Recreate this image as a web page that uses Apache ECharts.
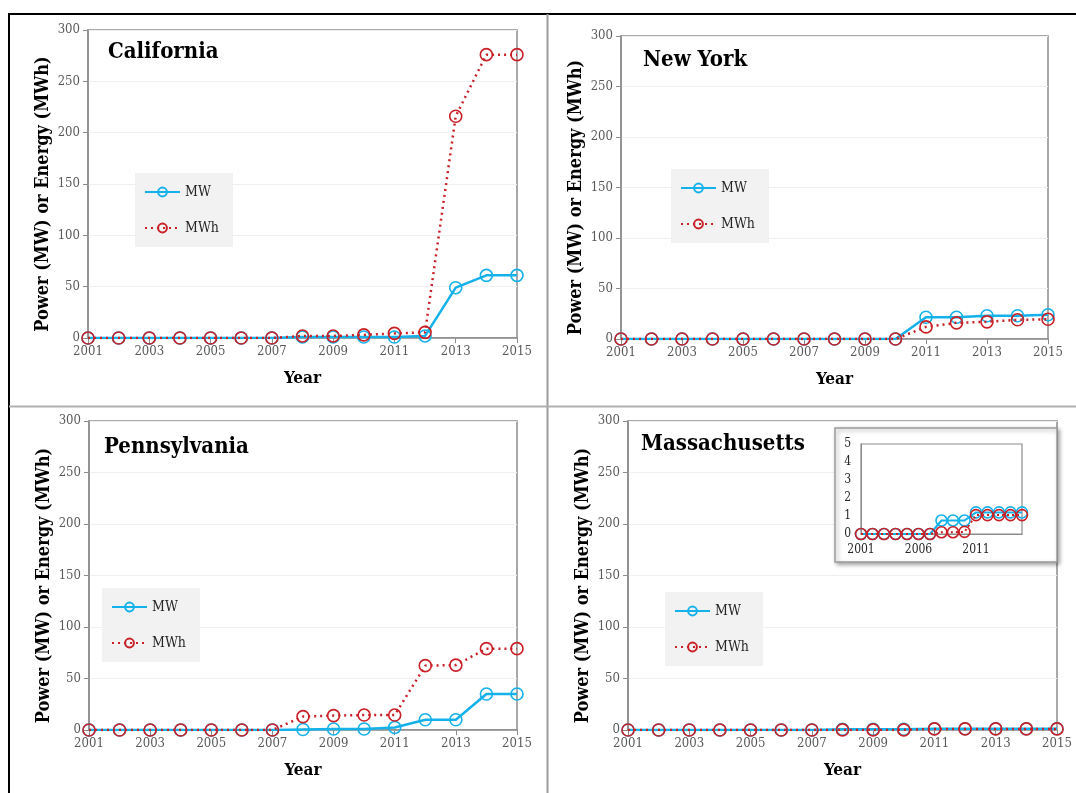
<!DOCTYPE html>
<html>
<head>
<meta charset="utf-8">
<script src="https://cdn.jsdelivr.net/npm/echarts@6/dist/echarts.min.js"></script>
<style>
  html, body { margin: 0; padding: 0; background: #fff; }
  #chart { width: 1076px; height: 793px; }
</style>
</head>
<body>
<div id="chart"></div>
<script>
// Installed energy storage by state, 2001-2015
const years = ['2001','2002','2003','2004','2005','2006','2007','2008','2009','2010','2011','2012','2013','2014','2015'];
const yTicks = [0, 50, 100, 150, 200, 250, 300];
const insetTicks = [0, 1, 2, 3, 4, 5];

const caMW  = [0,0,0,0,0,0,0,1,1,1,1,2,49,61,61];
const caMWh = [0,0,0,0,0,0,0,2,2,3,4.5,5.5,216,276,276];

const nyMW  = [0,0,0,0,0,0,0,0,0,0,21.5,21.5,23,23,24];
const nyMWh = [0,0,0,0,0,0,0,0,0,0,12,16,17,19,19.5];

const paMW  = [0,0,0,0,0,0,0,0.5,1,1,2.5,10,10,35,35];
const paMWh = [0,0,0,0,0,0,0,13,14,14.5,14.5,62.5,63,79,79];

const maMW  = [0,0,0,0,0,0,0,0.75,0.75,0.75,1.2,1.2,1.2,1.2,1.2];
const maMWh = [0,0,0,0,0,0,0,0.1,0.1,0.12,1.05,1.05,1.05,1.05,1.05];

const states = ['California', 'New York', 'Pennsylvania', 'Massachusetts'];

const SERIF = "'DejaVu Serif Condensed', 'DejaVu Serif', serif";
const BLUE = '#14b1ea';
const RED = '#c91f26';
const AXIS_GREY = '#8c8c8c';
const LABEL_GREY = '#595959';

// panel layout: plot areas in pixels
const panels = [
  { left: 88,  top: 30,  right: 559, bottom: 455, title: [108, 55],  legend: [135, 173] },
  { left: 621, top: 36,  right: 28,  bottom: 454, title: [643, 63],  legend: [671, 169] },
  { left: 89,  top: 421, right: 559, bottom: 63,  title: [104, 450], legend: [102, 588] },
  { left: 628, top: 421, right: 19,  bottom: 63,  title: [641, 447], legend: [665, 592] }
];
const seriesData = [[caMW, caMWh], [nyMW, nyMWh], [paMW, paMWh], [maMW, maMWh]];

// hollow ring markers: the line shows through the middle
function mwStyle(width, size) {
  return {
    symbol: 'circle', symbolSize: size, showAllSymbol: true,
    lineStyle: { color: BLUE, width: width },
    itemStyle: { color: 'rgba(255,255,255,0)', borderColor: BLUE, borderWidth: 1.6 }
  };
}
function mwhStyle(width, size, dash) {
  return {
    symbol: 'circle', symbolSize: size, showAllSymbol: true,
    lineStyle: { color: RED, width: width, type: dash },
    itemStyle: { color: 'rgba(255,255,255,0)', borderColor: RED, borderWidth: 1.6 }
  };
}

const grid = [], xAxis = [], yAxis = [], series = [], legend = [], graphic = [];

panels.forEach((p, i) => {
  grid.push({ left: p.left, top: p.top, right: p.right, bottom: p.bottom,
              show: true, borderColor: AXIS_GREY, borderWidth: 1.5, backgroundColor: 'transparent' });
  xAxis.push({
    type: 'category', gridIndex: i, data: years, boundaryGap: false,
    name: 'Year', nameLocation: 'middle', nameGap: 32,
    nameTextStyle: { fontFamily: SERIF, fontWeight: 'bold', fontSize: 17, color: '#000' },
    axisLine: { lineStyle: { color: AXIS_GREY, width: 1.5 } },
    axisTick: { interval: 1, length: 5, lineStyle: { color: AXIS_GREY } },
    axisLabel: { interval: 1, fontFamily: SERIF, fontSize: 13, color: LABEL_GREY, margin: 7 },
    splitLine: { show: false }
  });
  yAxis.push({
    type: 'value', gridIndex: i, min: yTicks[0], max: yTicks[yTicks.length - 1], interval: 50,
    name: 'Power (MW) or Energy (MWh)', nameLocation: 'middle', nameGap: 36, nameRotate: 90,
    nameTextStyle: { fontFamily: SERIF, fontWeight: 'bold', fontSize: 18, color: '#000', padding: [0, 20, 0, 0] },
    axisLine: { show: true, lineStyle: { color: AXIS_GREY, width: 1.5 } },
    axisTick: { show: true, length: 5, lineStyle: { color: AXIS_GREY } },
    axisLabel: { fontFamily: SERIF, fontSize: 13, color: LABEL_GREY, margin: 8 },
    splitLine: { lineStyle: { color: '#f0f0f0', width: 1 } }
  });
  const [mw, mwh] = seriesData[i];
  series.push(Object.assign({ name: 'MW', type: 'line', xAxisIndex: i, yAxisIndex: i, data: mw, z: 2 },
                            mwStyle(2.5, 12)));
  series.push(Object.assign({ name: 'MWh', type: 'line', xAxisIndex: i, yAxisIndex: i, data: mwh, z: 3 },
                            mwhStyle(2.5, 12, [2, 4])));
  legend.push({
    data: ['MW', 'MWh'], orient: 'vertical', left: p.legend[0], top: p.legend[1],
    backgroundColor: '#f2f2f2', padding: [12, 14, 12, 9], itemGap: 22,
    itemWidth: 35, itemHeight: 11,
    textStyle: { fontFamily: SERIF, fontSize: 14, color: '#262626' },
    selectedMode: false
  });
  graphic.push({
    type: 'text', left: p.title[0], top: p.title[1] - 14,
    style: { text: states[i], fontFamily: SERIF, fontWeight: 'bold', fontSize: 22, fill: '#000' }
  });
});

// Massachusetts close-up: same values on a 0-5 scale
const inset = { left: 861, top: 444, width: 161, height: 90 };
graphic.push({
  type: 'rect', z: 5,
  shape: { x: 835, y: 428, width: 222, height: 134 },
  style: { fill: '#fff', stroke: '#9a9a9a', lineWidth: 1.5,
           shadowBlur: 4, shadowOffsetX: 2, shadowOffsetY: 2, shadowColor: 'rgba(0,0,0,0.35)' }
});
grid.push({ left: inset.left, top: inset.top, width: inset.width, height: inset.height, z: 10,
            show: true, borderColor: AXIS_GREY, borderWidth: 1.2, backgroundColor: 'transparent' });
xAxis.push({
  type: 'category', gridIndex: 4, data: years, boundaryGap: false, z: 10,
  axisLine: { lineStyle: { color: AXIS_GREY } },
  axisTick: { show: false },
  axisLabel: { interval: 4, fontFamily: SERIF, fontSize: 12, color: '#262626', margin: 10 },
  splitLine: { show: false }
});
yAxis.push({
  type: 'value', gridIndex: 4, min: insetTicks[0], max: insetTicks[insetTicks.length - 1], interval: 1, z: 10,
  axisLine: { show: true, lineStyle: { color: AXIS_GREY } },
  axisTick: { show: false },
  axisLabel: { fontFamily: SERIF, fontSize: 12, color: '#262626', margin: 10 },
  splitLine: { show: false }
});
series.push(Object.assign({ name: 'MW', type: 'line', xAxisIndex: 4, yAxisIndex: 4, data: maMW, z: 11 },
                          mwStyle(2, 11)));
series.push(Object.assign({ name: 'MWh', type: 'line', xAxisIndex: 4, yAxisIndex: 4, data: maMWh, z: 12 },
                          mwhStyle(2, 11, [2, 3])));

// panel frame and dividers
graphic.push(
  { type: 'line', z: 20, shape: { x1: 9, y1: 14, x2: 1076, y2: 14 }, style: { stroke: '#000', lineWidth: 2 } },
  { type: 'line', z: 20, shape: { x1: 9, y1: 13, x2: 9, y2: 793 }, style: { stroke: '#000', lineWidth: 2 } },
  { type: 'line', z: 20, shape: { x1: 547.5, y1: 14, x2: 547.5, y2: 793 }, style: { stroke: '#9c9c9c', lineWidth: 2 } },
  { type: 'line', z: 20, shape: { x1: 9, y1: 406.5, x2: 1076, y2: 406.5 }, style: { stroke: '#b0b0b0', lineWidth: 2 } }
);

const chart = echarts.init(document.getElementById('chart'), null, { renderer: 'canvas' });
chart.setOption({
  animation: false,
  backgroundColor: '#fff',
  grid, xAxis, yAxis, series, legend, graphic
});
</script>
</body>
</html>
